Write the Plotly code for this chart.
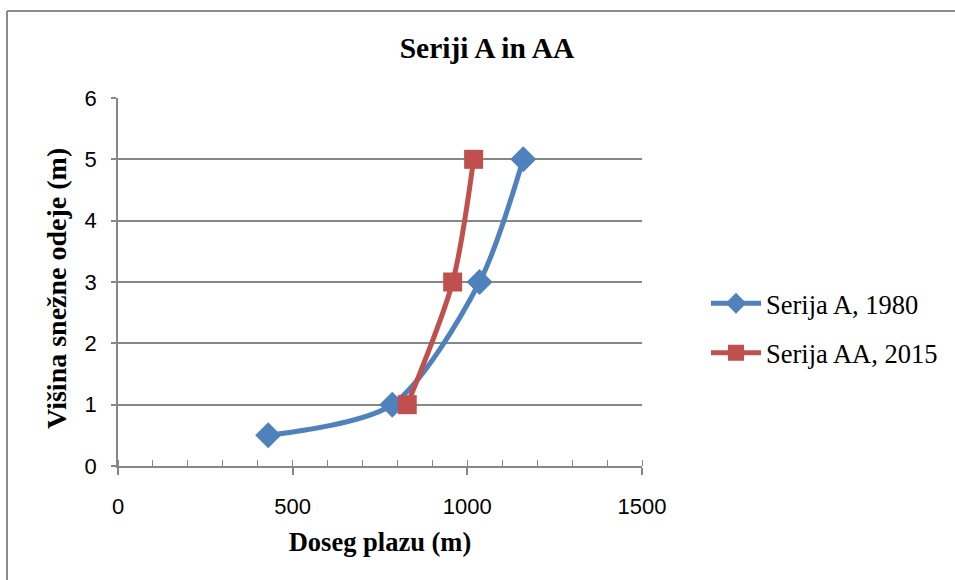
import plotly.graph_objects as go

# Data
series_a_name = "Serija A, 1980"
series_a_x = [430, 785, 1035, 1160]
series_a_y = [0.5, 1, 3, 5]

series_aa_name = "Serija AA, 2015"
series_aa_x = [828, 958, 1018]
series_aa_y = [1, 3, 5]

x_ticks = [0, 500, 1000, 1500]
y_ticks = [0, 1, 2, 3, 4, 5, 6]

title_text = "<b>Seriji A in AA</b>"
x_title = "<b>Doseg plazu (m)</b>"
y_title = "<b>Višina snežne odeje (m)</b>"

BLUE = "#4F81BD"
RED = "#C0504D"
GRID = "#878787"
SERIF = "Liberation Serif, Times New Roman, serif"
SANS = "Liberation Sans, Arial, sans-serif"

fig = go.Figure()
fig.add_trace(go.Scatter(
    x=series_a_x, y=series_a_y, name=series_a_name, mode="lines+markers",
    line=dict(color=BLUE, width=5, shape="spline", smoothing=0.8),
    marker=dict(symbol="diamond", size=20, color=BLUE),
    legendgroup="a",
))
fig.add_trace(go.Scatter(
    x=series_aa_x, y=series_aa_y, name=series_aa_name, mode="lines+markers",
    line=dict(color=RED, width=5, shape="spline", smoothing=0.8),
    marker=dict(symbol="square", size=19, color=RED),
    legendgroup="aa",
))

L, R, T, B = 118, 313, 98, 114
W, H = 955, 580
pw = W - L - R
ph = H - T - B

def px_x(p):
    return (p - L) / pw

def px_y(p):
    return (H - B - p) / ph

fig.update_layout(
    width=W, height=H,
    margin=dict(l=L, r=R, t=T, b=B, pad=0, autoexpand=False),
    paper_bgcolor="white", plot_bgcolor="white",
    title=dict(text=title_text, x=487 / W, xanchor="center", xref="container",
               y=1 - 48 / H, yanchor="middle", yref="container",
               font=dict(family=SERIF, size=29.5, color="black")),
    legend=dict(x=px_x(706), xanchor="left", y=px_y(328), yanchor="middle",
                font=dict(family=SERIF, size=26.5, color="black"),
                tracegroupgap=12, traceorder="grouped", itemwidth=50,
                bgcolor="rgba(0,0,0,0)"),
    showlegend=True,
)

fig.update_xaxes(
    range=[0, 1500], tickvals=x_ticks, ticktext=[str(v) for v in x_ticks],
    showgrid=False, zeroline=False,
    showline=True, linecolor=GRID, linewidth=1.5,
    ticks="outside", ticklen=7, tickcolor=GRID, tickwidth=1.5,
    minor=dict(dtick=100, ticks="inside", ticklen=6, tickcolor=GRID, tickwidth=1.2, showgrid=False),
    tickfont=dict(family=SANS, size=22, color="black"),
    ticklabelstandoff=13,
    title=dict(text=x_title, font=dict(family=SERIF, size=26.5, color="black"), standoff=14),
)
fig.update_yaxes(
    range=[0, 6], tickvals=y_ticks, ticktext=[str(v) for v in y_ticks],
    showgrid=True, gridcolor=GRID, gridwidth=1.5, zeroline=False,
    showline=True, linecolor=GRID, linewidth=1.5,
    ticks="outside", ticklen=5, tickcolor=GRID, tickwidth=1.5,
    tickfont=dict(family=SANS, size=22, color="black"),
    ticklabelstandoff=10,
)

# Y axis title as annotation (positioned like the reference)
fig.add_annotation(text=y_title, xref="paper", yref="paper",
                   x=px_x(56), y=px_y(289), xanchor="center", yanchor="middle",
                   textangle=-90, showarrow=False,
                   font=dict(family=SERIF, size=28, color="black"))

# Outer chart border (left and top edges visible)
fig.add_shape(type="line", xref="paper", yref="paper",
              x0=px_x(7), x1=px_x(7), y0=px_y(600), y1=px_y(11),
              line=dict(color="#8C8C8C", width=2), layer="below")
fig.add_shape(type="line", xref="paper", yref="paper",
              x0=px_x(7), x1=px_x(1000), y0=px_y(11), y1=px_y(11),
              line=dict(color="#8C8C8C", width=2), layer="below")

fig.write_html(
    "out.html",
    config={"displayModeBar": False},
    post_script="document.documentElement.style.overflow='hidden';document.body.style.overflow='hidden';document.body.style.margin='0';",
)
